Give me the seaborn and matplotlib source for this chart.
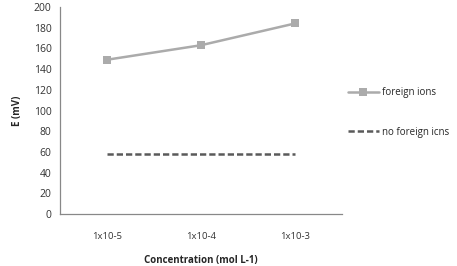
import numpy as np
import pandas as pd
import matplotlib
matplotlib.use('Agg')
import matplotlib.pyplot as plt
import seaborn as sns

# 数据
concentrations = ['1x10-5', '1x10-4', '1x10-3']
foreign_ions = [149, 163, 184]
no_foreign_ions = [58, 58, 58]

sns.set_style('white')
plt.rcParams['font.family'] = ['Open Sans', 'DejaVu Sans']

df = pd.DataFrame({
    'pos': list(range(len(concentrations))) * 2,
    'E': foreign_ions + no_foreign_ions,
    'series': ['foreign ions'] * 3 + ['no foreign icns'] * 3,
})

fig = plt.figure(figsize=(4.57, 2.66), dpi=100)
ax = fig.add_axes([0.131, 0.195, 0.617, 0.779])

sns.lineplot(data=df[df['series'] == 'foreign ions'], x='pos', y='E',
             color='#ababab', lw=1.8, marker='s', markersize=6,
             markeredgewidth=0, label='foreign ions', ax=ax)
sns.lineplot(data=df[df['series'] == 'no foreign icns'], x='pos', y='E',
             color='#5a5a5a', lw=1.8, linestyle=(0, (2.5, 1.2)),
             label='no foreign icns', ax=ax)

ax.set_xlim(-0.5, 2.5)
ax.set_ylim(0, 200)
ax.set_yticks(range(0, 201, 20))
ax.set_xticks([0.5, 1.5])
ax.set_xticklabels([])
ax.set_xticks(range(3), minor=True)
ax.set_xticklabels(concentrations, minor=True)
ax.tick_params(axis='x', which='minor', length=0, pad=13, labelsize=6.8, colors='#333333')
ax.tick_params(axis='x', which='major', length=4, width=0.8, color='#888888', direction='out')
ax.tick_params(axis='y', length=4, width=0.8, color='#888888', direction='out',
               labelsize=7.5, labelcolor='#333333', pad=2)

for s in ['top', 'right']:
    ax.spines[s].set_visible(False)
for s in ['left', 'bottom']:
    ax.spines[s].set_color('#888888')
    ax.spines[s].set_linewidth(0.9)

ax.set_xlabel('Concentration (mol L-1)', fontsize=7, fontweight='bold', labelpad=10)
ax.set_ylabel('E (mV)', fontsize=7, fontweight='bold', labelpad=8)

ax.legend(loc='center left', bbox_to_anchor=(0.99, 0.49), frameon=False,
          fontsize=7, labelspacing=2.9, handlelength=3.2, handletextpad=0.3)

fig.savefig('out.png', dpi=100)
